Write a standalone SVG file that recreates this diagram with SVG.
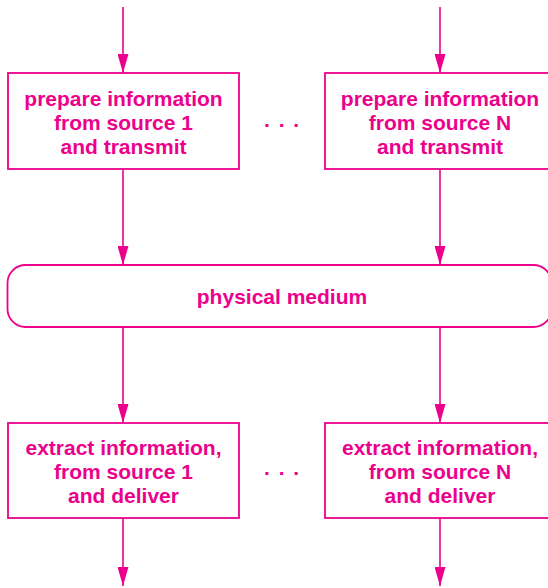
<svg xmlns="http://www.w3.org/2000/svg" width="548" height="588" viewBox="0 0 548 588">
<style>
.box{fill:#fff;stroke:#EC008C;stroke-width:1.8}
.t{font-family:"Liberation Sans",Arial,sans-serif;font-weight:bold;font-size:21px;fill:#EC008C;text-anchor:middle}
.dots{font-family:"Liberation Sans",Arial,sans-serif;font-weight:bold;font-size:21px;fill:#EC008C;letter-spacing:1.5px}
.c{stroke:#EC008C;stroke-width:1.6;fill:none;marker-end:url(#ah)}
</style>
<defs>
<marker id="ah" viewBox="0 0 19 11" refX="19" refY="5.5" markerWidth="19" markerHeight="11" markerUnits="userSpaceOnUse" orient="auto">
<path d="M0,0 L19,5.5 L0,11 Z" fill="#EC008C"/>
</marker>
</defs>
<rect width="548" height="588" fill="#fff"/>
<g id="connectors">
<line class="c" x1="123" y1="7" x2="123" y2="73"/>
<line class="c" x1="440" y1="7" x2="440" y2="73"/>
<line class="c" x1="123" y1="169" x2="123" y2="265"/>
<line class="c" x1="440" y1="169" x2="440" y2="265"/>
<line class="c" x1="123" y1="327" x2="123" y2="423"/>
<line class="c" x1="440" y1="327" x2="440" y2="423"/>
<line class="c" x1="123" y1="518" x2="123" y2="586"/>
<line class="c" x1="440" y1="518" x2="440" y2="586"/>
</g>
<g id="prepare1">
<rect class="box" x="8" y="73" width="231" height="96"/>
<text class="t" x="123.5" y="106">prepare information</text>
<text class="t" x="123.5" y="130">from source 1</text>
<text class="t" x="123.5" y="154">and transmit</text>
</g>
<g id="dotsTop"><text class="dots" x="264" y="127">. . .</text></g>
<g id="prepareN">
<rect class="box" x="325" y="73" width="231" height="96"/>
<text class="t" x="440" y="106">prepare information</text>
<text class="t" x="440" y="130">from source N</text>
<text class="t" x="440" y="154">and transmit</text>
</g>
<g id="medium">
<rect class="box" x="7.5" y="265" width="544" height="62" rx="18" ry="18"/>
<text class="t" x="282" y="304">physical medium</text>
</g>
<g id="extract1">
<rect class="box" x="8" y="423" width="231" height="95"/>
<text class="t" x="123.5" y="455">extract information,</text>
<text class="t" x="123.5" y="479">from source 1</text>
<text class="t" x="123.5" y="503">and deliver</text>
</g>
<g id="dotsBottom"><text class="dots" x="264" y="475">. . .</text></g>
<g id="extractN">
<rect class="box" x="325" y="423" width="231" height="95"/>
<text class="t" x="440" y="455">extract information,</text>
<text class="t" x="440" y="479">from source N</text>
<text class="t" x="440" y="503">and deliver</text>
</g>
</svg>
